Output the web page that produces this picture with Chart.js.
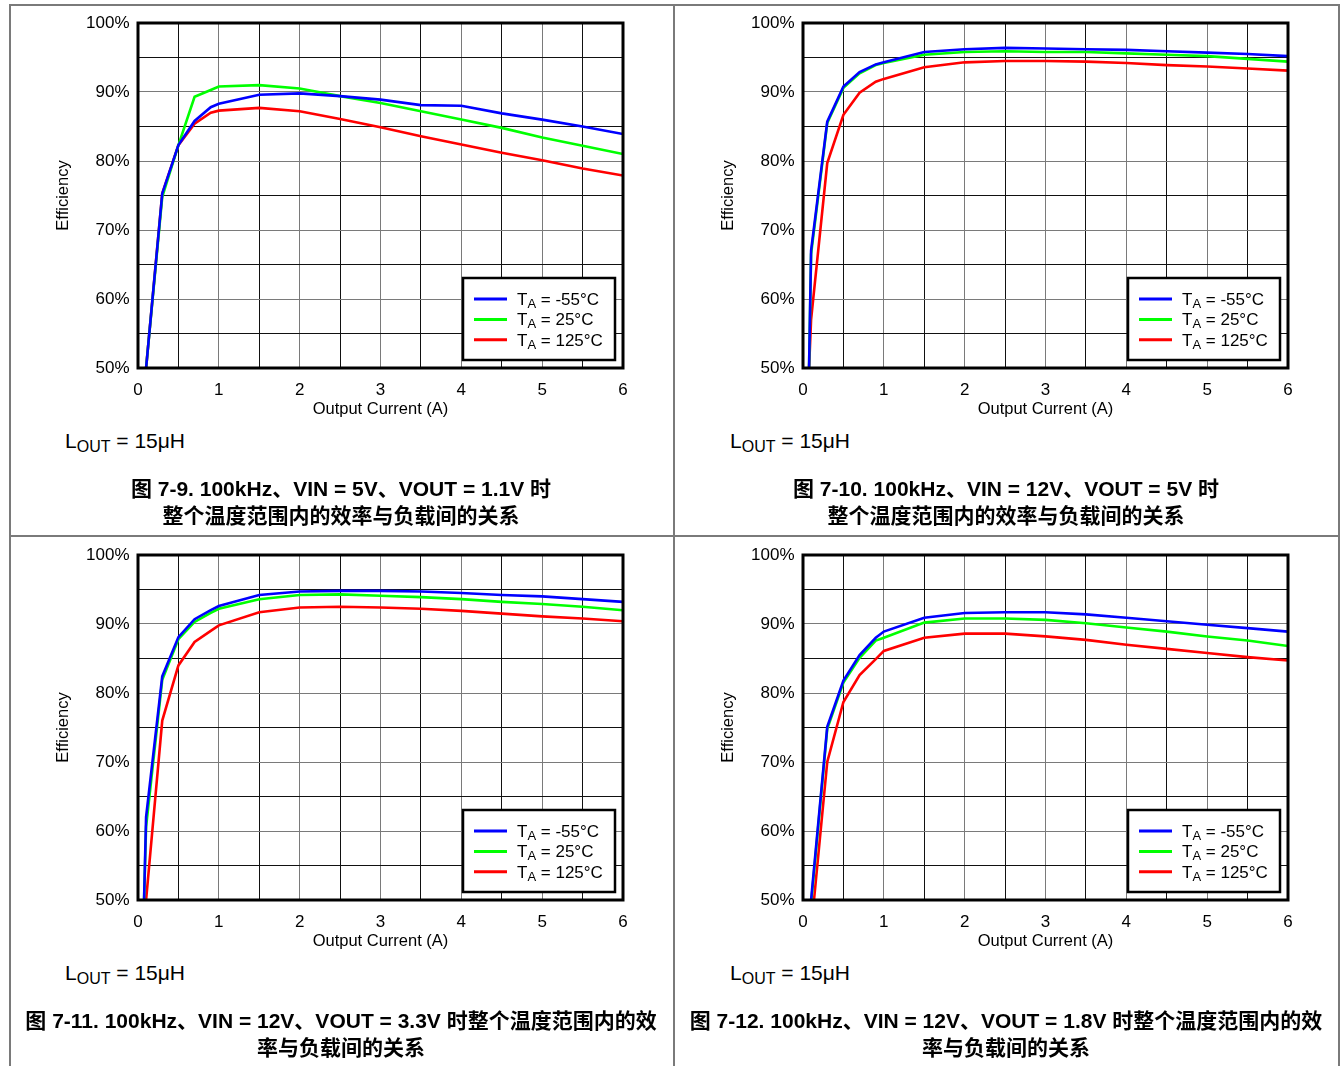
<!DOCTYPE html>
<html>
<head>
<meta charset="utf-8">
<script src="https://cdn.jsdelivr.net/npm/chart.js@4.4.1/dist/chart.umd.min.js"></script>
<style>
    body { margin: 0; background: #fff; }
    #page { position: relative; width: 1340px; height: 1066px; overflow: hidden; background: #fff;
            font-family: "Liberation Sans", Arial, sans-serif; color: #000; }
    .rule { position: absolute; background: #7a7a7a; }
    .plot { position: absolute; width: 670px; height: 420px; }
    .lout { position: absolute; font-size: 21px; line-height: 21px; white-space: nowrap; }
    .lout sub { font-size: 16px; vertical-align: -4px; line-height: 0; }
    .caption { position: absolute; width: 664px; text-align: center; font-weight: bold; font-size: 21px;
               line-height: 27px; white-space: nowrap;
               font-family: "Liberation Sans", "Noto Sans CJK SC", sans-serif; }
</style>
</head>
<body>
<div id="page">
    <div class="rule" style="left:9px; top:4px; width:1330px; height:1.5px;"></div>
    <div class="rule" style="left:9px; top:535px; width:1330px; height:1.5px;"></div>
    <div class="rule" style="left:9px; top:4px; width:1.5px; height:1062px;"></div>
    <div class="rule" style="left:673px; top:4px; width:1.5px; height:1062px;"></div>
    <div class="rule" style="left:1338px; top:4px; width:1.5px; height:1062px;"></div>
</div>
<script>
    // output current (A), shared by every curve
    var currentA = [0.075, 0.1, 0.3, 0.5, 0.7, 0.9, 1, 1.5, 2, 2.5, 3, 3.5, 4, 4.5, 5, 5.5, 6];

    // efficiency (%), order: -55C, 25C, 125C
    var fig9Cold = [null, 50.0, 75.3, 82.3, 85.8, 87.8, 88.3, 89.6, 89.8, 89.4, 88.9, 88.1, 88.0, 86.9, 86.0, 85.0, 83.9];
    var fig9Room = [null, 50.0, 74.8, 82.3, 89.3, 90.3, 90.8, 91.0, 90.5, 89.4, 88.4, 87.2, 86.0, 84.8, 83.4, 82.2, 81.0];
    var fig9Hot  = [null, 50.0, 75.3, 82.3, 85.4, 87.0, 87.3, 87.7, 87.2, 86.1, 84.9, 83.6, 82.4, 81.2, 80.1, 78.9, 77.9];

    var fig10Cold = [50, 67.0, 85.7, 90.8, 92.9, 94.0, 94.3, 95.8, 96.2, 96.4, 96.3, 96.2, 96.1, 95.9, 95.7, 95.5, 95.2];
    var fig10Room = [50, 66.5, 85.5, 90.6, 92.7, 93.9, 94.2, 95.4, 95.8, 95.9, 95.8, 95.8, 95.6, 95.4, 95.2, 94.8, 94.4];
    var fig10Hot  = [50, 57.0, 79.7, 86.7, 89.9, 91.5, 91.9, 93.6, 94.3, 94.5, 94.5, 94.4, 94.2, 93.9, 93.7, 93.4, 93.1];

    var fig11Cold = [50, 62.0, 82.4, 88.1, 90.7, 92.0, 92.6, 94.2, 94.7, 94.8, 94.8, 94.7, 94.5, 94.2, 94.0, 93.6, 93.2];
    var fig11Room = [50, 60.6, 81.9, 87.8, 90.3, 91.6, 92.2, 93.6, 94.2, 94.3, 94.1, 93.9, 93.6, 93.2, 92.9, 92.5, 92.0];
    var fig11Hot  = [null, 50.0, 76.0, 84.0, 87.4, 89.0, 89.8, 91.7, 92.4, 92.5, 92.4, 92.2, 91.9, 91.5, 91.1, 90.8, 90.4];

    var fig12Cold = [null, 50.0, 75.1, 81.8, 85.5, 88.0, 88.9, 90.9, 91.6, 91.7, 91.7, 91.4, 90.9, 90.4, 89.9, 89.4, 88.9];
    var fig12Room = [null, 49.5, 74.8, 81.5, 85.1, 87.6, 88.0, 90.2, 90.8, 90.8, 90.6, 90.1, 89.5, 88.9, 88.2, 87.6, 86.8];
    var fig12Hot  = [null, 45.6, 70.0, 78.7, 82.6, 84.9, 86.1, 88.0, 88.6, 88.6, 88.2, 87.7, 87.0, 86.4, 85.8, 85.2, 84.7];

    var tempLabels = ['-55°C', '25°C', '125°C'];
    var lineColors = ['#0000ff', '#00ff00', '#ff0000'];
    var inductorText = '15μH';

    var captions = [
        ['图 7-9. 100kHz、VIN = 5V、VOUT = 1.1V 时', '整个温度范围内的效率与负载间的关系'],
        ['图 7-10. 100kHz、VIN = 12V、VOUT = 5V 时', '整个温度范围内的效率与负载间的关系'],
        ['图 7-11. 100kHz、VIN = 12V、VOUT = 3.3V 时整个温度范围内的效', '率与负载间的关系'],
        ['图 7-12. 100kHz、VIN = 12V、VOUT = 1.8V 时整个温度范围内的效', '率与负载间的关系']
    ];

    var figures = [
        [fig9Cold, fig9Room, fig9Hot],
        [fig10Cold, fig10Room, fig10Hot],
        [fig11Cold, fig11Room, fig11Hot],
        [fig12Cold, fig12Room, fig12Hot]
    ];

    var FONT = '"Liberation Sans", Arial, sans-serif';

    // thick plot frame + the boxed legend with T subscript A
    var framePlugin = {
        id: 'frame',
        afterDraw: function (chart) {
            var ctx = chart.ctx;
            var a = chart.chartArea;
            ctx.save();
            ctx.strokeStyle = '#000';
            ctx.lineWidth = 3;
            ctx.strokeRect(a.left, a.top, a.right - a.left, a.bottom - a.top);

            var w = 152, h = 82;
            var bx = a.right - 8 - w;
            var by = a.bottom - 8 - h;
            ctx.fillStyle = '#fff';
            ctx.fillRect(bx, by, w, h);
            ctx.lineWidth = 2.5;
            ctx.strokeRect(bx, by, w, h);

            chart.data.datasets.forEach(function (ds, i) {
                var y = by + 21 + i * 20.4;
                ctx.strokeStyle = ds.borderColor;
                ctx.lineWidth = 3;
                ctx.beginPath();
                ctx.moveTo(bx + 11, y);
                ctx.lineTo(bx + 44, y);
                ctx.stroke();

                ctx.fillStyle = '#000';
                ctx.textBaseline = 'alphabetic';
                var x = bx + 54;
                ctx.font = '17px ' + FONT;
                ctx.fillText('T', x, y + 6);
                x += ctx.measureText('T').width;
                ctx.font = '13px ' + FONT;
                ctx.fillText('A', x, y + 9);
                x += ctx.measureText('A').width;
                ctx.font = '17px ' + FONT;
                ctx.fillText(' = ' + tempLabels[i], x, y + 6);
            });
            ctx.restore();
        }
    };

    function gridColor(ctx, wide) {
        var v = ctx.tick ? ctx.tick.value : 0;
        return (Math.round(v * 1000) % (wide * 1000) === 0) ? '#7a7a7a' : '#111';
    }

    function makeChart(index) {
        var page = document.getElementById('page');
        var col = index % 2, row = Math.floor(index / 2);
        var px = col * 665, py = row * 532;

        var holder = document.createElement('div');
        holder.className = 'plot';
        holder.style.left = px + 'px';
        holder.style.top = py + 'px';
        var canvas = document.createElement('canvas');
        canvas.width = 670;
        canvas.height = 420;
        holder.appendChild(canvas);
        page.insertBefore(holder, page.firstChild);

        var lout = document.createElement('div');
        lout.className = 'lout';
        lout.style.left = (px + 65) + 'px';
        lout.style.top = (py + 430) + 'px';
        lout.innerHTML = 'L<sub>OUT</sub> = ' + inductorText;
        page.appendChild(lout);

        var cap = document.createElement('div');
        cap.className = 'caption';
        cap.style.left = (px + 9) + 'px';
        cap.style.top = (py + 475) + 'px';
        cap.innerHTML = captions[index][0] + '<br>' + captions[index][1];
        page.appendChild(cap);

        var datasets = figures[index].map(function (values, i) {
            return {
                label: 'TA = ' + tempLabels[i],
                data: values.map(function (v, k) { return { x: currentA[k], y: v }; }),
                borderColor: lineColors[i],
                backgroundColor: lineColors[i],
                borderWidth: 2.6,
                pointRadius: 0,
                tension: 0,
                spanGaps: false
            };
        });

        return new Chart(canvas, {
            type: 'line',
            data: { datasets: datasets },
            plugins: [framePlugin],
            options: {
                responsive: false,
                animation: false,
                layout: { padding: { top: 23, right: 47, bottom: 0, left: 0 } },
                plugins: { legend: { display: false }, tooltip: { enabled: false } },
                scales: {
                    x: {
                        type: 'linear',
                        min: 0,
                        max: 6,
                        afterFit: function (s) { s.height = 52; },
                        ticks: {
                            stepSize: 0.5,
                            autoSkip: false,
                            maxRotation: 0,
                            padding: 12,
                            color: '#000',
                            font: { family: FONT, size: 17 },
                            callback: function (v) { return Number.isInteger(v) ? String(v) : ''; }
                        },
                        grid: {
                            drawTicks: false,
                            color: function (c) { return gridColor(c, 1); },
                            lineWidth: 1
                        },
                        border: { display: false },
                        title: {
                            display: true,
                            text: 'Output Current (A)',
                            color: '#000',
                            font: { family: FONT, size: 16.5 },
                            padding: { top: 0, bottom: 1 }
                        }
                    },
                    y: {
                        min: 50,
                        max: 100,
                        afterFit: function (s) { s.width = 138; },
                        ticks: {
                            stepSize: 5,
                            autoSkip: false,
                            padding: 8.5,
                            color: '#000',
                            font: { family: FONT, size: 17 },
                            callback: function (v) { return v % 10 === 0 ? v + '%' : ''; }
                        },
                        grid: {
                            drawTicks: false,
                            color: function (c) { return gridColor(c, 10); },
                            lineWidth: 1
                        },
                        border: { display: false },
                        title: {
                            display: true,
                            text: 'Efficiency',
                            color: '#000',
                            font: { family: FONT, size: 16.5 },
                            padding: { top: 54, bottom: 0 }
                        }
                    }
                }
            }
        });
    }

    for (var i = 0; i < 4; i++) {
        makeChart(i);
    }
</script>
</body>
</html>
